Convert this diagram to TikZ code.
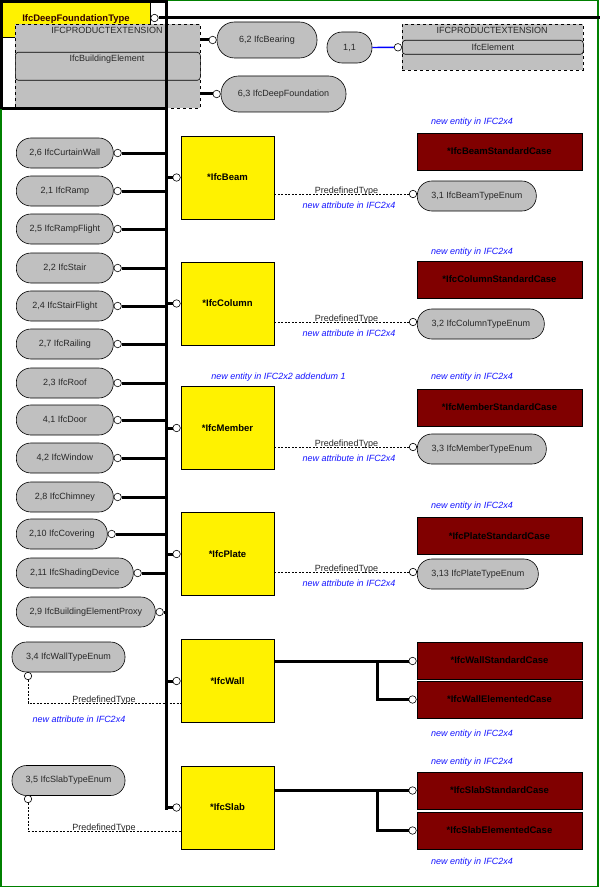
\documentclass[tikz,border=0pt]{standalone}
\usepackage{fontspec}
\setmainfont{Liberation Sans}
\definecolor{gcol}{RGB}{192,192,192}
\definecolor{drcol}{RGB}{128,0,0}
\definecolor{bluet}{RGB}{20,20,255}
\definecolor{grn}{RGB}{0,128,0}
\definecolor{txt}{RGB}{40,40,40}
\begin{document}
\begin{tikzpicture}[x=1pt,y=-1pt,
  thickln/.style={line width=3pt},
  dsh/.style={line width=0.6pt, dash pattern=on 2pt off 1.5pt},
  conn/.style={circle, draw, fill=white, inner sep=0pt, minimum size=7.5pt, line width=0.6pt},
  lbl/.style={font=\fontsize{9}{10}\selectfont, text=txt, inner sep=0pt},
  blt/.style={font=\fontsize{9}{10}\selectfont\itshape, text=bluet, inner sep=0pt},
  pill/.style={draw, fill=gcol, line width=0.6pt, rounded corners=14.5pt, minimum height=30pt, inner sep=0pt, font=\fontsize{9}{10}\selectfont, text=txt},
  ybox/.style={draw, fill=yellow, line width=0.8pt, minimum width=93pt, minimum height=83pt, inner sep=0pt, font=\fontsize{9.5}{11}\selectfont\bfseries},
  rbox/.style={draw, fill=drcol, line width=0.8pt, minimum width=165pt, minimum height=37pt, inner sep=0pt, font=\fontsize{9.5}{11}\selectfont\bfseries, text=black},
  dbox/.style={draw, dashed, fill=gcol, line width=0.6pt, inner sep=0pt},
  ibox/.style={draw, fill=gcol, line width=0.6pt, rounded corners=3pt, inner sep=0pt}
]
\useasboundingbox (0,0) rectangle (600,888);
\fill[white] (0,0) rectangle (600,888);
\draw[grn, line width=1.5pt] (0.75,0.75) rectangle (598,886.5);

% top-left area
\node[draw, fill=yellow, line width=0.6pt, minimum width=148pt, minimum height=35pt, inner sep=0pt, anchor=north west,
      font=\fontsize{9.5}{11}\selectfont\bfseries] (dft) at (2,2) {};
\node[dbox, minimum width=185pt, minimum height=84pt, anchor=north west] (pe1) at (15,24) {};
\node[ibox, minimum width=185pt, minimum height=28pt, anchor=north west] (be) at (15,52) {};
\node[font=\fontsize{9.5}{11}\selectfont\bfseries, inner sep=0pt, text=black!80!red] (dfttxt) at (76,19) {IfcDeepFoundationType};
\node[lbl] (pe1h) at (107,30.5) {IFCPRODUCTEXTENSION};
\node[lbl] (betxt) at (107,59.5) {IfcBuildingElement};
\draw[line width=3pt] (1.5,109) -- (1.5,1.5) -- (166,1.5);
\draw[line width=3pt] (1.5,109) -- (166,109);
\coordinate (bustop) at (166,0);
\coordinate (busbot) at (166,809.5);
\draw[thickln] (bustop) -- (busbot);

\node[conn] (cdft) at (154.5,18) {};
\coordinate (topend) at (600,18);
\draw[thickln] (cdft.east) -- (topend);

% bearing and deep foundation
\node[pill, rounded corners=17.5pt, minimum width=100pt, minimum height=36pt] (brg) at (267,40) {6,2 IfcBearing};
\node[conn, anchor=east] (cbrg) at (brg.west) {};
\draw[thickln] (pe1.east |- cbrg) -- (cbrg.west);
\node[pill, rounded corners=17.5pt, minimum width=125pt, minimum height=36pt] (dfd) at (283.5,94) {6,3 IfcDeepFoundation};
\node[conn, anchor=east] (cdfd) at (dfd.west) {};
\draw[thickln] (pe1.east |- cdfd) -- (cdfd.west);

% 1,1 and IfcElement
\node[pill, rounded corners=15pt, minimum width=45pt, minimum height=31pt] (p11) at (349.5,47.5) {1,1};
\node[dbox, minimum width=181pt, minimum height=46pt, anchor=north west] (pe2) at (402,24) {};
\node[ibox, minimum width=181pt, minimum height=14pt, anchor=north west] (elm) at (402,40) {};
\node[lbl] (pe2h) at (492,30.5) {IFCPRODUCTEXTENSION};
\node[lbl] (elmtxt) at (elm) {IfcElement};
\node[conn, anchor=east] (c11) at (elm.west) {};
\draw[blue, line width=1.4pt] (p11.east) -- (c11.west);

% left column
\foreach \n/\yy/\w/\t in {
  1/153/97/{2,6 IfcCurtainWall},
  2/191/97/{2,1 IfcRamp},
  3/229/97/{2,5 IfcRampFlight},
  4/268/97/{2,2 IfcStair},
  5/306/97/{2,4 IfcStairFlight},
  6/344/97/{2,7 IfcRailing},
  7/383/97/{2,3 IfcRoof},
  8/420/97/{4,1 IfcDoor},
  9/458/97/{4,2 IfcWindow},
  10/497/97/{2,8 IfcChimney},
  11/534/91/{2,10 IfcCovering},
  12/573/117/{2,11 IfcShadingDevice},
  13/612/139/{2,9 IfcBuildingElementProxy}}{
  \node[pill, minimum width=\w pt, anchor=west] (l\n) at (16,\yy) {\t};
  \node[conn, anchor=west] (cl\n) at (l\n.east) {};
  \draw[thickln] (cl\n.east) -- (cl\n.east -| bustop);
}

% yellow boxes
\foreach \n/\yy/\t in {beam/177.5/{*IfcBeam}, column/303.5/{*IfcColumn}, member/428/{*IfcMember},
                       plate/554/{*IfcPlate}, wall/681/{*IfcWall}, slab/807.5/{*IfcSlab}}{
  \node[ybox] (\n) at (227.5,\yy) {\t};
  \node[conn, anchor=east] (c\n) at (\n.west) {};
  \draw[thickln] (c\n.west) -- (c\n.west -| bustop);
}

% dark red boxes
\node[rbox] (beamsc) at (499.5,151.5) {*IfcBeamStandardCase};
\node[rbox] (colsc) at (499.5,279.5) {*IfcColumnStandardCase};
\node[rbox] (memsc) at (499.5,407.5) {*IfcMemberStandardCase};
\node[rbox] (platesc) at (499.5,536) {*IfcPlateStandardCase};
\node[rbox] (wallsc) at (499.5,660.5) {*IfcWallStandardCase};
\node[rbox] (wallec) at (499.5,699.5) {*IfcWallElementedCase};
\node[rbox] (slabsc) at (499.5,790.5) {*IfcSlabStandardCase};
\node[rbox] (slabec) at (499.5,830.5) {*IfcSlabElementedCase};

% new entity labels
\node[blt] (ne1) at (472,122) {new entity in IFC2x4};
\node[blt] (ne2) at (472,252) {new entity in IFC2x4};
\node[blt] (ne3) at (472,377.5) {new entity in IFC2x4};
\node[blt] (ne3b) at (278.5,377.5) {new entity in IFC2x2 addendum 1};
\node[blt] (ne4) at (472,506) {new entity in IFC2x4};
\node[blt] (ne5) at (472,734) {new entity in IFC2x4};
\node[blt] (ne6) at (472,762) {new entity in IFC2x4};
\node[blt] (ne7) at (472,862) {new entity in IFC2x4};

% right enums
\foreach \n/\src/\yy/\w/\t in {
  1/beam/194/119/{3,1 IfcBeamTypeEnum},
  2/column/322/127/{3,2 IfcColumnTypeEnum},
  3/member/447/129/{3,3 IfcMemberTypeEnum},
  4/plate/572/121/{3,13 IfcPlateTypeEnum}}{
  \node[pill, minimum width=\w pt, anchor=west] (en\n) at (417,\yy+2) {\t};
  \node[conn] (cen\n) at (413,\yy) {};
  \draw[dsh] (\src.east |- cen\n) -- (cen\n.west);
  \node[lbl] (pt\n) at (346.5,\yy-3) {PredefinedType};
  \node[blt] (na\n) at (349,\yy+11) {new attribute in IFC2x4};
}

% wall subtypes
\coordinate (wj) at (377,661);
\node[conn, anchor=east] (cwsc) at (wallsc.west |- wj) {};
\node[conn, anchor=east] (cwec) at (wallec.west) {};
\draw[thickln] (wall.east |- wj) -- (cwsc.west);
\draw[thickln] (wj) |- (cwec.west);

% slab subtypes
\coordinate (sj) at (377,790.5);
\node[conn, anchor=east] (cssc) at (slabsc.west) {};
\node[conn, anchor=east] (csec) at (slabec.west) {};
\draw[thickln] (slab.east |- sj) -- (cssc.west);
\draw[thickln] (sj) |- (csec.west);

% left enums
\node[pill, minimum width=113pt] (wte) at (68.5,657) {3,4 IfcWallTypeEnum};
\node[conn] (cwte) at (28,676) {};
\coordinate (wd) at (0,703);
\draw[dsh] (cwte.south) |- (wall.west |- wd);
\node[lbl] (ptw) at (104,700) {PredefinedType};
\node[blt] (naw) at (79,719) {new attribute in IFC2x4};

\node[pill, minimum width=113pt] (ste) at (68.5,780.5) {3,5 IfcSlabTypeEnum};
\node[conn] (cste) at (28,799) {};
\coordinate (sd) at (0,831);
\draw[dsh] (cste.south) |- (slab.west |- sd);
\node[lbl] (pts) at (104,828) {PredefinedType};
\end{tikzpicture}
\end{document}
